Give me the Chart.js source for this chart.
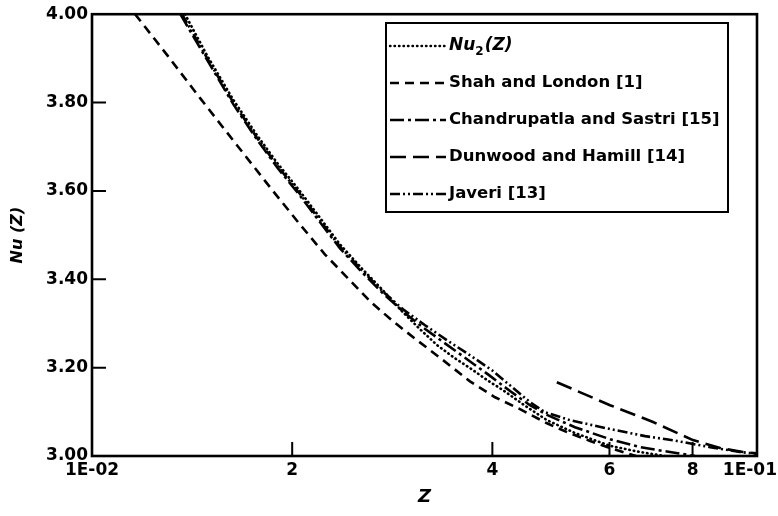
<!DOCTYPE html>
<html>
<head>
<meta charset="utf-8">
<script src="https://cdn.jsdelivr.net/npm/chart.js@4.4.1/dist/chart.umd.min.js"></script>
<style>
  html, body { margin: 0; padding: 0; background: #fff; }
  canvas { display: block; }
</style>
</head>
<body>
<canvas id="c" width="778" height="516"></canvas>
<script>
// ---- Data ----
const seriesLabels = ['Nu₂(Z)', 'Shah and London [1]', 'Chandrupatla and Sastri [15]', 'Dunwood and Hamill [14]', 'Javeri [13]'];

const zNu2 = [0.01380, 0.01489, 0.01630, 0.01771, 0.01904, 0.02048, 0.02203, 0.02360, 0.02547, 0.02739, 0.02936, 0.03113, 0.03303, 0.03515, 0.03702, 0.03926, 0.04150, 0.04448, 0.04833, 0.05325, 0.06012, 0.0667, 0.07271];
const nuNu2 = [4.000, 3.907, 3.807, 3.726, 3.661, 3.602, 3.539, 3.479, 3.424, 3.375, 3.325, 3.287, 3.251, 3.221, 3.199, 3.172, 3.149, 3.117, 3.081, 3.052, 3.023, 3.009, 3.000];

const zShah = [0.01161, 0.01301, 0.01454, 0.01641, 0.01871, 0.02055, 0.02241, 0.02427, 0.02619, 0.02835, 0.03082, 0.03372, 0.03702, 0.04037, 0.04402, 0.04833, 0.05181, 0.05611, 0.06012, 0.06579];
const nuShah = [4.000, 3.905, 3.810, 3.709, 3.600, 3.524, 3.456, 3.402, 3.350, 3.305, 3.262, 3.217, 3.169, 3.133, 3.106, 3.074, 3.054, 3.034, 3.018, 3.000];

const zChandrupatla = [0.01358, 0.01489, 0.01630, 0.01771, 0.01904, 0.02048, 0.02203, 0.02360, 0.02547, 0.02739, 0.02936, 0.03146, 0.03395, 0.03664, 0.03954, 0.04252, 0.04557, 0.04833, 0.05325, 0.06012, 0.0667, 0.07398, 0.08068];
const nuChandrupatla = [4.000, 3.897, 3.797, 3.716, 3.651, 3.592, 3.529, 3.470, 3.416, 3.368, 3.327, 3.291, 3.255, 3.219, 3.183, 3.147, 3.115, 3.093, 3.065, 3.038, 3.020, 3.009, 3.000];

const zDunwood = [0.0500, 0.06012, 0.06977, 0.08012, 0.0880, 0.09526, 0.1];
const nuDunwood = [3.167, 3.115, 3.077, 3.036, 3.018, 3.009, 3.006];

const zJaveri = [0.01366, 0.01489, 0.01630, 0.01771, 0.01904, 0.02048, 0.02203, 0.02360, 0.02547, 0.02739, 0.02936, 0.03168, 0.03419, 0.03702, 0.03995, 0.04282, 0.04557, 0.04800, 0.05235, 0.06012, 0.06787, 0.07581, 0.0850, 0.09428, 0.1];
const nuJaveri = [4.000, 3.901, 3.801, 3.720, 3.655, 3.596, 3.533, 3.474, 3.420, 3.372, 3.332, 3.296, 3.262, 3.228, 3.194, 3.156, 3.122, 3.099, 3.081, 3.061, 3.045, 3.034, 3.020, 3.009, 3.005];

const xTickValues = [0.01, 0.02, 0.04, 0.06, 0.08, 0.1];
const xTickLabels = ['1E-02', '2', '4', '6', '8', '1E-01'];
const yTickValues = [3.0, 3.2, 3.4, 3.6, 3.8, 4.0];
const yTickLabels = ['3.00', '3.20', '3.40', '3.60', '3.80', '4.00'];

// ---- Styles ----
const FONT = '"DejaVu Sans", "Liberation Sans", Arial, sans-serif';
const dashes = [[0.5, 4], [9, 6], [14, 4, 3, 4], [16, 7], [10, 3, 2, 3, 2, 3]];

function pts(zs, ns) { return zs.map((z, i) => ({ x: z, y: ns[i] })); }
const seriesData = [pts(zNu2, nuNu2), pts(zShah, nuShah), pts(zChandrupatla, nuChandrupatla), pts(zDunwood, nuDunwood), pts(zJaveri, nuJaveri)];

const datasets = seriesData.map((d, i) => ({
  label: seriesLabels[i],
  data: d,
  borderColor: '#000',
  backgroundColor: '#000',
  borderWidth: 2.6,
  borderDash: dashes[i],
  borderCapStyle: i === 0 ? 'round' : 'butt',
  pointRadius: 0,
  tension: 0,
  fill: false
}));

const framePlugin = {
  id: 'framePlugin',
  afterDatasetsDraw(chart) {
    const { ctx, chartArea: a, scales } = chart;
    const x = scales.x, y = scales.y;
    ctx.save();
    ctx.setLineDash([]);
    ctx.strokeStyle = '#000';
    ctx.lineWidth = 2.6;
    ctx.strokeRect(a.left, a.top, a.right - a.left, a.bottom - a.top);
    // inner tick marks
    ctx.lineWidth = 2;
    ctx.beginPath();
    xTickValues.forEach(v => {
      if (v > x.min && v < x.max) {
        const px = x.getPixelForValue(v);
        ctx.moveTo(px, a.bottom); ctx.lineTo(px, a.bottom - 14);
      }
    });
    yTickValues.forEach(v => {
      if (v > y.min && v < y.max) {
        const py = y.getPixelForValue(v);
        ctx.moveTo(a.left, py); ctx.lineTo(a.left + 14, py);
      }
    });
    ctx.stroke();
    // x tick labels
    ctx.fillStyle = '#000';
    ctx.font = 'bold 17px ' + FONT;
    ctx.textBaseline = 'middle';
    xTickValues.forEach((v, i) => {
      const px = x.getPixelForValue(v);
      if (i === xTickValues.length - 1) {
        ctx.textAlign = 'right';
        ctx.fillText(xTickLabels[i], chart.width - 1, a.bottom + 15);
      } else {
        ctx.textAlign = 'center';
        ctx.fillText(xTickLabels[i], px, a.bottom + 15);
      }
    });
    // legend box
    const L = { left: 386, top: 23, right: 728, bottom: 212 };
    ctx.lineWidth = 2;
    ctx.strokeRect(L.left, L.top, L.right - L.left, L.bottom - L.top);
    const rowH = 37;
    chart.data.datasets.forEach((ds, i) => {
      const ry = L.top + 23 + i * rowH;
      ctx.save();
      ctx.lineWidth = 2.4;
      ctx.setLineDash(ds.borderDash);
      ctx.lineCap = ds.borderCapStyle;
      ctx.beginPath();
      ctx.moveTo(390, ry); ctx.lineTo(446, ry);
      ctx.stroke();
      ctx.restore();
      ctx.textAlign = 'left';
      ctx.textBaseline = 'middle';
      const label = ds.label;
      let tx = 449;
      if (label.indexOf('₂') >= 0) {
        const parts = label.split('₂');
        ctx.font = 'italic bold 17px ' + FONT;
        ctx.fillText(parts[0], tx, ry);
        tx += ctx.measureText(parts[0]).width;
        ctx.font = 'bold 12px ' + FONT;
        ctx.fillText('2', tx, ry + 6);
        tx += ctx.measureText('2').width + 1;
        ctx.font = 'italic bold 17px ' + FONT;
        ctx.fillText(parts[1], tx, ry);
      } else {
        ctx.font = 'bold 16.5px ' + FONT;
        ctx.fillText(label, tx, ry);
      }
    });
    ctx.restore();
  }
};

new Chart(document.getElementById('c'), {
  type: 'line',
  data: { datasets },
  options: {
    responsive: false,
    animation: false,
    layout: { padding: { left: 0, right: 21, top: 13, bottom: 0 } },
    plugins: { legend: { display: false }, tooltip: { enabled: false } },
    scales: {
      x: {
        type: 'logarithmic',
        min: 0.01, max: 0.1,
        grid: { display: false, drawTicks: false },
        border: { display: false },
        ticks: { display: false },
        title: { display: true, text: 'Z', color: '#000', font: { family: FONT, size: 18, style: 'italic', weight: 'bold' }, padding: { top: 0, bottom: 8 } },
        afterFit: s => { s.height = 60; }
      },
      y: {
        type: 'linear',
        min: 3, max: 4,
        afterBuildTicks: s => { s.ticks = yTickValues.map(v => ({ value: v })); },
        ticks: {
          color: '#000',
          padding: 4,
          font: { family: FONT, size: 17, weight: 'bold' },
          callback: (v, i) => yTickLabels[i]
        },
        grid: { display: false, drawTicks: false },
        border: { display: false },
        title: { display: true, text: 'Nu (Z)', color: '#000', font: { family: FONT, size: 16, style: 'italic', weight: 'bold' }, padding: { top: 8, bottom: 0 } },
        afterFit: s => { s.width = 92; }
      }
    }
  },
  plugins: [framePlugin]
});
</script>
</body>
</html>
